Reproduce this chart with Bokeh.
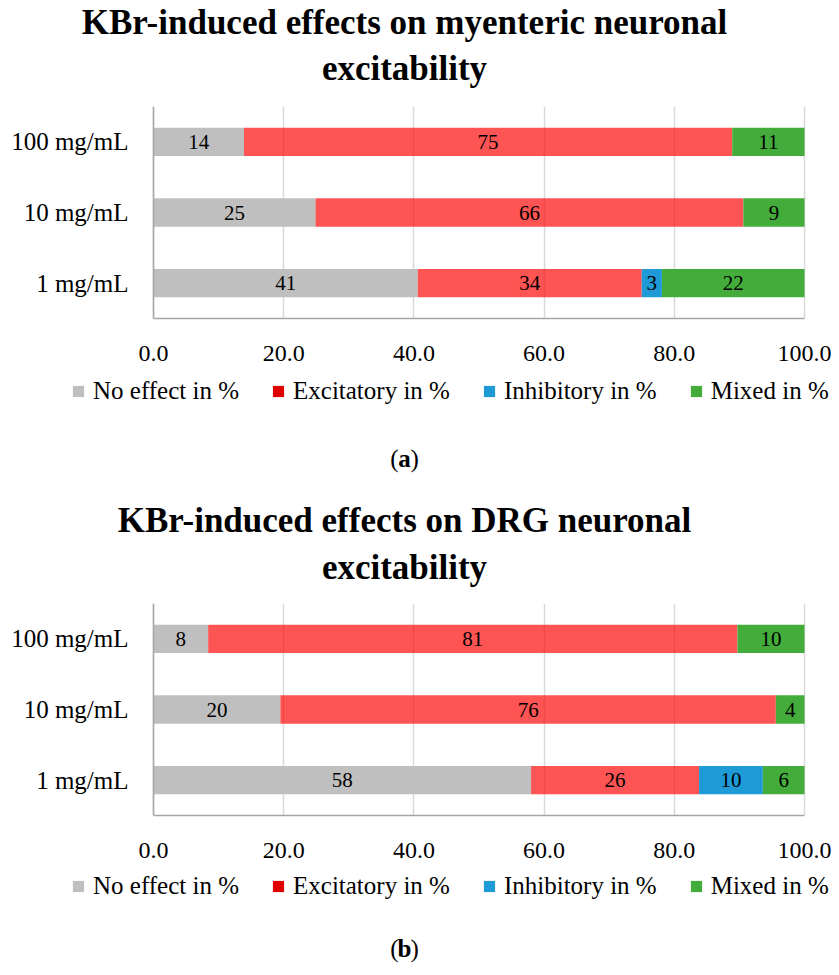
from bokeh.plotting import figure
from bokeh.models import (FactorRange, Range1d, Label, Legend, LegendItem,
                          FixedTicker, NumeralTickFormatter)
from bokeh.layouts import column
from bokeh.embed import file_html
from bokeh.resources import INLINE
from bokeh.core.properties import value

# ---------------- data ----------------
concentrations = ["1 mg/mL", "10 mg/mL", "100 mg/mL"]
series_names = ["No effect in %", "Excitatory in %", "Inhibitory in %", "Mixed in %"]

# panel (a): myenteric neurons
a_no_effect = [40.6, 24.9, 13.9]
a_excitatory = [34.4, 65.7, 75.0]
a_inhibitory = [3.1, 0.0, 0.0]
a_mixed = [21.9, 9.4, 11.1]

# panel (b): DRG neurons
b_no_effect = [58.0, 19.5, 8.4]
b_excitatory = [25.8, 76.1, 81.3]
b_inhibitory = [9.8, 0.0, 0.0]
b_mixed = [6.4, 4.4, 10.3]

x_ticks = [0, 20, 40, 60, 80, 100]

title_a = ["KBr-induced effects on myenteric neuronal", "excitability"]
title_b = ["KBr-induced effects on DRG neuronal", "excitability"]

# ---------------- style / layout ----------------
FONT = "Liberation Serif"
bar_colors = ["#BFBFBF", "#FF0000", "#1E9BD7", "#43AC3B"]
bar_alphas = [1.0, 0.67, 1.0, 1.0]
swatch_colors = ["#BFBFBF", "#E00000", "#1E9BD7", "#43AC3B"]
W = 839
CX = 404                   # horizontal centre of titles / captions (px)
PLOT_L, PLOT_R = 153, 804  # pixel positions of 0 and 100 on the value axis
PX = (PLOT_R - PLOT_L) / 100.0


def blank(height):
    f = figure(width=W, height=height, x_range=Range1d(0, W), y_range=Range1d(0, height),
               output_backend="svg", toolbar_location=None,
               x_axis_type=None, y_axis_type=None,
               min_border=0, min_border_left=0, min_border_right=0,
               min_border_top=0, min_border_bottom=0)
    f.outline_line_color = None
    f.xgrid.visible = False
    f.ygrid.visible = False
    return f


def title_fig(titles, height, y1, y2):
    f = blank(height)
    for txt, yy in zip(titles, (y1, y2)):
        f.add_layout(Label(x=CX, y=yy, text=txt, text_align="center",
                           text_baseline="middle", text_font=FONT,
                           text_font_size="35px", text_font_style="bold",
                           text_color="#000000"))
    return f


def main_fig(series):
    x0 = -PLOT_L / PX
    x1 = 100 + (W - PLOT_R) / PX
    p = figure(width=W, height=274,
               y_range=FactorRange(*concentrations), x_range=Range1d(x0, x1),
               output_backend="svg", toolbar_location=None,
               min_border_left=0, min_border_right=0,
               min_border_top=10, min_border_bottom=52)
    p.outline_line_color = None

    left = [0.0] * len(concentrations)
    lx, ly, lt = [], [], []
    for vals, col, alpha in zip(series, bar_colors, bar_alphas):
        right = [l + v for l, v in zip(left, vals)]
        p.hbar(y=concentrations, left=left, right=right, height=0.4,
               fill_color=col, fill_alpha=alpha, line_color=None)
        for c, l, v in zip(concentrations, left, vals):
            if v > 0:
                lx.append(l + v / 2)
                ly.append(c)
                lt.append(str(int(round(v))))
        left = right
    p.text(x=lx, y=ly, text=lt, text_align="center", text_baseline="middle",
           text_font=value(FONT), text_font_size="21px", text_color="#000000")

    p.xaxis.ticker = FixedTicker(ticks=x_ticks)
    p.xaxis.formatter = NumeralTickFormatter(format="0.0")
    p.xaxis.bounds = (0, 100)
    p.yaxis.fixed_location = 0
    for ax in (p.xaxis, p.yaxis):
        ax.major_tick_line_color = None
        ax.minor_tick_line_color = None
        ax.major_tick_out = 0
        ax.major_tick_in = 0
        ax.axis_line_color = "#A6A6A6"
        ax.axis_line_width = 1.5
        ax.major_label_text_font = FONT
        ax.major_label_text_color = "#000000"
    p.xaxis.major_label_text_font_size = "24px"
    p.yaxis.major_label_text_font_size = "25px"
    p.xaxis.major_label_standoff = 27
    p.yaxis.major_label_standoff = 25
    p.xgrid.ticker = FixedTicker(ticks=x_ticks)
    p.xgrid.grid_line_color = "#D9D9D9"
    p.xgrid.grid_line_width = 1.5
    p.ygrid.grid_line_color = None
    return p


def legend_fig(letter, height, leg_y, cap_y):
    f = blank(height)
    items = []
    for name, c in zip(series_names, swatch_colors):
        # legend proxy, kept outside the visible range
        r = f.rect(x=[-W], y=[-height], width=1, height=1,
                   fill_color=c, line_color=None)
        items.append(LegendItem(label=name, renderers=[r]))
    legend = Legend(items=items, orientation="horizontal", location=(71, leg_y),
                    glyph_width=14, glyph_height=14, label_standoff=8, spacing=32,
                    padding=0, margin=0, border_line_color=None,
                    background_fill_alpha=0, label_height=26,
                    label_text_font=FONT, label_text_font_size="25px",
                    label_text_color="#000000")
    f.add_layout(legend, "center")
    f.add_layout(Label(x=CX - 6, y=cap_y, text="(", text_align="right",
                       text_baseline="middle", text_font=FONT,
                       text_font_size="25px", text_color="#000000"))
    f.add_layout(Label(x=CX, y=cap_y, text=letter, text_align="center",
                       text_baseline="middle", text_font=FONT,
                       text_font_size="25px", text_font_style="bold",
                       text_color="#000000"))
    f.add_layout(Label(x=CX + 6, y=cap_y, text=")", text_align="left",
                       text_baseline="middle", text_font=FONT,
                       text_font_size="25px", text_color="#000000"))
    return f


ta = title_fig(title_a, 96, 74, 28)
pa = main_fig([a_no_effect, a_excitatory, a_inhibitory, a_mixed])
la = legend_fig("a", 110, 75, 22)
tb = title_fig(title_b, 113, 73, 26)
pb = main_fig([b_no_effect, b_excitatory, b_inhibitory, b_mixed])
lb = legend_fig("b", 108, 75, 27)

layout = column(ta, pa, la, tb, pb, lb, spacing=0)
open("out.html", "w").write(file_html(layout, INLINE))
